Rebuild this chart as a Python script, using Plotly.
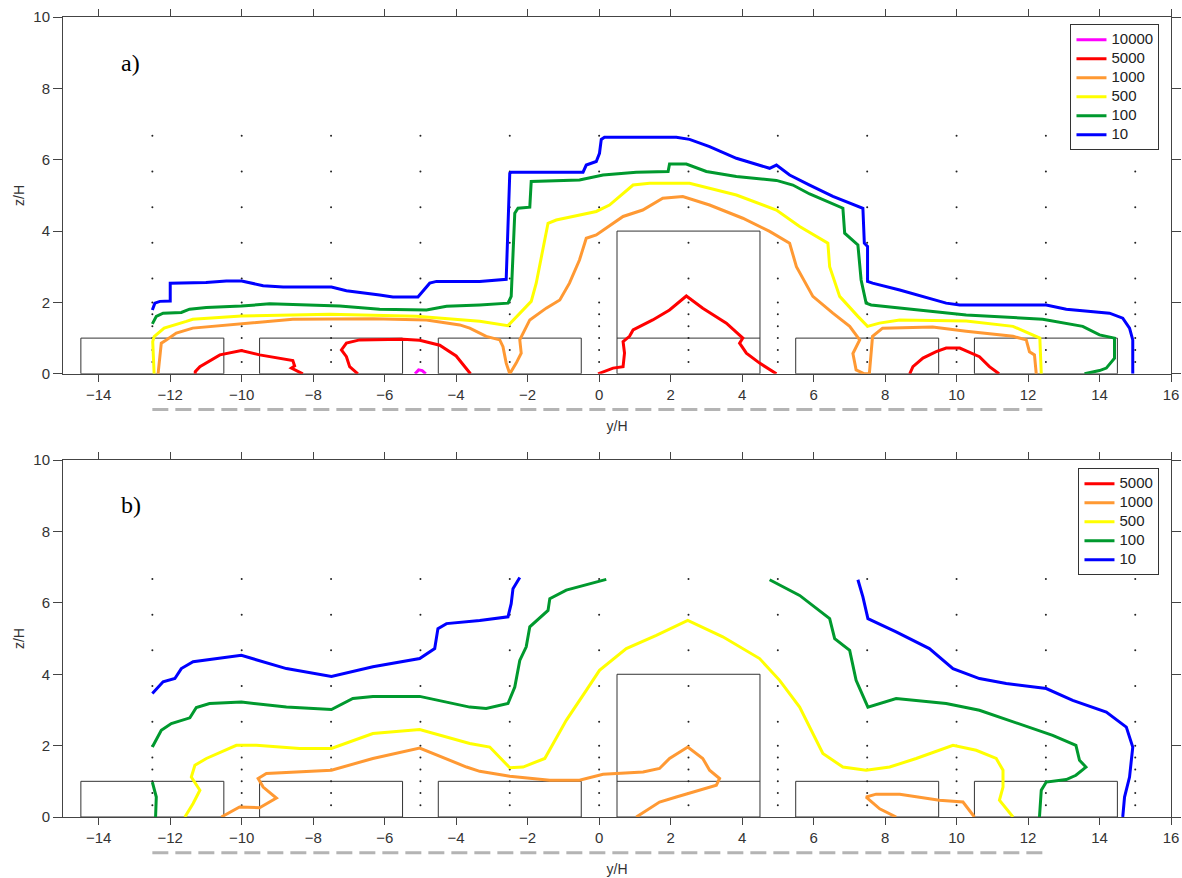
import plotly.graph_objects as go

# ---------------- data (y/H, z/H) ----------------
# panel a)
a_10_y = [-12.5, -12.43, -12.29, -12.0, -12.0, -11.0, -10.43, -10.0, -9.4, -8.84, -7.49, -7.07, -6.14, -5.77, -5.07,
          -4.74, -4.55, -3.34, -2.6, -2.55, -2.5, -2.46, -0.45, -0.36, -0.08, 0.01, 0.06, 0.15, 2.16, 2.53, 3.09,
          3.84, 4.49, 4.77, 4.96, 5.33, 5.89, 6.54, 7.38, 7.42, 7.51, 7.51, 7.65, 8.41, 9.71, 10.09, 12.51, 13.07,
          14.28, 14.65, 14.84, 14.93, 14.93]
a_10_z = [1.79, 1.98, 2.03, 2.04, 2.54, 2.56, 2.6, 2.6, 2.47, 2.43, 2.43, 2.33, 2.21, 2.15, 2.15,
          2.54, 2.59, 2.59, 2.65, 4.0, 5.62, 5.65, 5.65, 5.85, 5.95, 6.18, 6.57, 6.63, 6.63, 6.57, 6.37,
          6.04, 5.85, 5.76, 5.85, 5.57, 5.29, 4.97, 4.64, 3.66, 3.57, 2.59, 2.54, 2.35, 1.98, 1.93, 1.93, 1.81,
          1.70, 1.56, 1.28, 0.95, 0.0]

a_100_y = [-12.5, -12.39, -12.2, -11.69, -11.46, -10.99, -10.01, -9.22, -7.26, -6.14, -4.83, -4.27, -3.34, -2.55,
           -2.46, -2.36, -2.27, -1.94, -1.9, -0.55, 0.11, 1.04, 1.93, 1.97, 2.44, 3.0, 3.84, 4.96, 5.42, 5.89, 6.82,
           6.87, 7.24, 7.33, 7.47, 7.61, 10.27, 12.41, 13.53, 14.0, 14.42, 14.42, 14.19, 14.0, 13.58]
a_100_z = [1.40, 1.61, 1.70, 1.72, 1.81, 1.86, 1.9, 1.96, 1.9, 1.81, 1.79, 1.89, 1.93, 1.98,
           2.17, 4.5, 4.64, 4.67, 5.39, 5.43, 5.57, 5.65, 5.67, 5.88, 5.88, 5.67, 5.53, 5.42, 5.29, 5.04, 4.64,
           3.94, 3.61, 2.63, 1.98, 1.93, 1.65, 1.53, 1.33, 1.09, 1.0, 0.44, 0.16, 0.09, 0.0]

a_500_y = [-12.45, -12.49, -12.45, -12.17, -11.55, -11.37, -10.01, -7.54, -5.11, -3.9, -3.34, -2.55, -2.22, -1.9,
           -1.76, -1.62, -1.43, -1.2, -0.08, 0.29, 0.95, 1.41, 2.53, 3.84, 4.96, 5.61, 6.4, 6.45, 6.73, 7.24, 7.51,
           7.84, 8.41, 10.27, 11.58, 12.33, 12.37]
a_500_z = [0.0, 0.9, 1.04, 1.28, 1.47, 1.53, 1.62, 1.67, 1.61, 1.51, 1.47, 1.35, 1.70, 2.03,
           2.54, 3.29, 4.22, 4.31, 4.55, 4.73, 5.29, 5.34, 5.34, 5.01, 4.59, 4.13, 3.66, 3.0, 2.17, 1.61, 1.33,
           1.42, 1.51, 1.48, 1.33, 1.0, 0.0]

a_1000_y = [-12.34, -12.29, -12.25, -12.11, -11.83, -11.37, -10.01, -8.57, -6.33, -4.83, -3.9, -3.62, -3.34, -3.16,
            -2.78, -2.69, -2.6, -2.5, -2.32, -2.18, -2.22, -1.94, -1.48, -1.1, -0.83, -0.55, -0.36, -0.08, 0.67,
            1.22, 1.78, 2.34, 3.09, 4.02, 4.77, 5.33, 5.52, 5.98, 6.54, 7.01, 7.29, 7.1, 7.19, 7.42, 7.56, 7.6,
            7.65, 7.93, 9.33, 10.27, 11.58, 11.95, 12.04, 12.18, 12.23]
a_1000_z = [0.0, 0.58, 0.86, 0.95, 1.14, 1.28, 1.40, 1.53, 1.54, 1.51, 1.37, 1.28, 1.14, 1.05,
            0.95, 0.76, 0.3, 0.0, 0.3, 0.58, 0.95, 1.51, 1.84, 2.07, 2.54, 3.19, 3.8, 3.89, 4.41,
            4.59, 4.92, 4.97, 4.73, 4.36, 3.99, 3.66, 3.0, 2.17, 1.7, 1.33, 0.95, 0.57, 0.11, 0.0, 0.0, 0.58,
            1.05, 1.28, 1.31, 1.19, 1.05, 0.95, 0.62, 0.53, 0.0]

a_5000_y = [-11.3, -11.3, -11.17, -10.84, -10.61, -10.01, -9.5, -8.57, -8.52, -8.61, -8.29, None,
            -6.75, -6.98, -7.07, -7.21, -7.07, -6.7, -5.49, -5.02, -4.46, -4.0, -3.6, None,
            -0.03, 0.39, 0.67, 0.71, 0.67, 0.85, 0.95, 1.5, 1.97, 2.44, 2.9, 3.56, 4.02, 3.93, 4.12, 4.49, 4.96, None,
            8.69, 8.78, 9.06, 9.43, 9.71, 10.09, 10.64, 10.92, 11.19]
a_5000_z = [0.0, 0.06, 0.2, 0.39, 0.53, 0.65, 0.53, 0.37, 0.22, 0.16, 0.0, None,
            0.0, 0.2, 0.48, 0.67, 0.86, 0.95, 0.97, 0.94, 0.8, 0.5, 0.0, None,
            0.0, 0.16, 0.2, 0.58, 0.9, 1.05, 1.23, 1.51, 1.79, 2.18, 1.84, 1.42, 1.0, 0.86, 0.58, 0.3, 0.0, None,
            0.0, 0.2, 0.44, 0.62, 0.72, 0.72, 0.48, 0.2, 0.0]

a_10000_y = [-5.15, -5.05, -4.95, -4.85]
a_10000_z = [0.0, 0.11, 0.09, 0.0]

# panel b)
b_10_y = [-12.5, -12.2, -11.87, -11.69, -11.36, -10.62, -10.01, -8.75, -7.49, -6.33, -5.02, -4.6, -4.51, -4.27,
          -3.34, -2.55, -2.46, -2.41, -2.22, None,
          7.24, 7.38, 7.52, 8.31, 9.24, 9.9, 10.64, 11.39, 12.51, 13.25, 14.19, 14.75, 14.93, 14.84, 14.7, 14.65]
b_10_z = [3.46, 3.79, 3.88, 4.16, 4.35, 4.44, 4.53, 4.16, 3.94, 4.21, 4.44, 4.72, 5.28, 5.42,
          5.51, 5.61, 5.98, 6.4, 6.71, None,
          6.65, 6.17, 5.56, 5.19, 4.72, 4.16, 3.88, 3.74, 3.6, 3.27, 2.94, 2.52, 1.96, 1.12, 0.56, 0.0]

b_100_y = [-12.5, -12.39, -12.41, None,
           -12.5, -12.25, -11.97, -11.45, -11.27, -10.9, -10.01, -8.75, -7.49, -6.89, -6.33, -5.02, -4.27, -3.62,
           -3.16, -2.55, -2.36, -2.22, -2.04, -1.94, -1.43, -1.38, -0.92, 0.2, None,
           4.77, 5.61, 6.45, 6.59, 7.01, 7.19, 7.52, 8.31, 9.71, 10.64, 12.69, 13.34, 13.44, 13.62, 13.34, 13.07,
           12.51, 12.37, 12.32]
b_100_z = [0.98, 0.56, 0.0, None,
           1.96, 2.43, 2.62, 2.78, 3.07, 3.18, 3.22, 3.08, 3.01, 3.32, 3.38, 3.38, 3.22, 3.08,
           3.04, 3.18, 3.64, 4.39, 4.77, 5.33, 5.79, 6.12, 6.36, 6.66, None,
           6.65, 6.21, 5.56, 5.0, 4.67, 3.83, 3.08, 3.32, 3.18, 2.99, 2.29, 2.01, 1.59, 1.4, 1.17, 1.05,
           0.98, 0.75, 0.0]

b_500_y = [-11.59, -11.36, -11.17, -11.41, -11.31, -10.99, -10.15, -9.59, -8.38, -7.49, -6.33, -5.02, -3.62,
           -3.06, -2.5, -2.13, -1.52, -0.92, -0.36, 0.01, 0.76, 1.6, 2.48, 3.46, 4.49, 5.05, 5.61, 6.26, 6.82,
           7.47, 8.13, 8.87, 9.9, 10.55, 11.11, 11.3, 11.3, 11.2, 11.58]
b_500_z = [0.0, 0.38, 0.75, 1.12, 1.45, 1.64, 2.01, 2.01, 1.92, 1.92, 2.34, 2.45, 2.06,
           1.96, 1.38, 1.4, 1.64, 2.71, 3.55, 4.11, 4.72, 5.09, 5.51, 5.05, 4.44, 3.83, 3.08, 1.78, 1.4,
           1.31, 1.4, 1.64, 2.01, 1.87, 1.64, 1.31, 0.84, 0.47, 0.0]

b_1000_y = [-10.57, -10.06, -9.5, -9.03, -9.4, -9.54, -9.31, -7.49, -6.33, -5.02, -3.71, -3.34, -2.5, -1.38,
            -0.55, 0.11, 1.23, 1.69, 1.97, 2.48, 2.9, 3.09, 3.37, 3.28, 2.16, 1.69, 1.04, None,
            8.31, 7.85, 7.47, 7.75, 8.41, 9.52, 10.18, 10.5]
b_1000_z = [0.0, 0.28, 0.26, 0.53, 0.84, 1.08, 1.22, 1.31, 1.64, 1.93, 1.4, 1.28, 1.14, 1.03,
            1.03, 1.2, 1.26, 1.36, 1.64, 1.96, 1.64, 1.31, 1.08, 0.89, 0.56, 0.42, 0.0, None,
            0.0, 0.23, 0.56, 0.64, 0.64, 0.47, 0.42, 0.0]

b_5000_y = [None]
b_5000_z = [None]

# buildings
bld_y0 = [-14.5, -9.5, -4.5, 0.5, 5.5, 10.5]
bld_y1 = [-10.5, -5.5, -0.5, 4.5, 9.5, 14.5]
bld_h = [1, 1, 1, 4, 1, 1]

# measurement point grid
grid_y = [-12.5, -10, -7.5, -5, -2.5, 0, 2.5, 5, 7.5, 10, 12.5, 15]
grid_z = [0.33, 0.67, 1.0, 1.33, 1.67, 2.0, 2.67, 3.67, 4.67, 5.67, 6.67]

levels = ["10000", "5000", "1000", "500", "100", "10"]
colors = {"10000": "#FF00FF", "5000": "#FF0000", "1000": "#FF9933",
          "500": "#FFFF00", "100": "#00992E", "10": "#0000FF"}

panel_a = {"10000": (a_10000_y, a_10000_z), "5000": (a_5000_y, a_5000_z), "1000": (a_1000_y, a_1000_z),
           "500": (a_500_y, a_500_z), "100": (a_100_y, a_100_z), "10": (a_10_y, a_10_z)}
panel_b = {"5000": (b_5000_y, b_5000_z), "1000": (b_1000_y, b_1000_z),
           "500": (b_500_y, b_500_z), "100": (b_100_y, b_100_z), "10": (b_10_y, b_10_z)}

# ---------------- figure ----------------
fig = go.Figure()
FONT = "Liberation Sans, Arial, sans-serif"


def legend_label(txt):
    return '<span style="font-size:15px">' + txt + '</span>'


gx = [gy for gy in grid_y for _ in grid_z]
gz = [z for _ in grid_y for z in grid_z]
for xa, ya in (("x", "y"), ("x2", "y2")):
    fig.add_trace(go.Scatter(x=gx, y=gz, mode="markers", xaxis=xa, yaxis=ya, showlegend=False,
                             marker=dict(size=2, color="#222"), hoverinfo="skip"))

for lv in levels:
    yy, zz = panel_a[lv]
    fig.add_trace(go.Scatter(x=yy, y=zz, mode="lines", name=legend_label(lv), xaxis="x", yaxis="y",
                             line=dict(color=colors[lv], width=3), legend="legend", connectgaps=False))
for lv in levels:
    if lv not in panel_b:
        continue
    yy, zz = panel_b[lv]
    fig.add_trace(go.Scatter(x=yy, y=zz, mode="lines", name=legend_label(lv), xaxis="x2", yaxis="y2",
                             line=dict(color=colors[lv], width=3), legend="legend2", connectgaps=False))

shapes = []
for xr, yr in (("x", "y"), ("x2", "y2")):
    for y0, y1, h in zip(bld_y0, bld_y1, bld_h):
        shapes.append(dict(type="rect", xref=xr, yref=yr, x0=y0, x1=y1, y0=0, y1=h,
                           line=dict(color="#333", width=1), layer="below"))
        if h > 1:
            shapes.append(dict(type="line", xref=xr, yref=yr, x0=y0, x1=y1, y0=1, y1=1,
                               line=dict(color="#333", width=1), layer="below"))
    shapes.append(dict(type="line", xref=xr, yref=yr + " domain", x0=grid_y[0], x1=-grid_y[0],
                       y0=-0.1, y1=-0.1, line=dict(color="#b4b4b4", width=3, dash="16px,7px")))

axis_common = dict(range=[-15, 16], dtick=2, tick0=0, showline=True, mirror="ticks", linecolor="#444",
                   linewidth=1, ticks="outside", ticklen=7, tickcolor="#444", showgrid=False, zeroline=False,
                   automargin=False, tickfont=dict(family=FONT, size=15, color="#333"))
yaxis_common = dict(range=[0, 10], dtick=2, showline=True, mirror="ticks", linecolor="#444", linewidth=1,
                    ticks="outside", ticklen=9, tickcolor="#444", showgrid=False, zeroline=False,
                    automargin=False, tickfont=dict(family=FONT, size=15, color="#333"))

legend_common = dict(bgcolor="white", bordercolor="#333", borderwidth=1, xanchor="right", yanchor="top",
                     font=dict(family=FONT, size=12, color="#222"), itemwidth=30, tracegroupgap=0)

fig.update_layout(
    width=1182, height=878,
    margin=dict(l=63, r=11, t=17, b=61, autoexpand=False),
    paper_bgcolor="white", plot_bgcolor="white",
    xaxis=dict(axis_common, domain=[0, 1], anchor="y",
               title=dict(text="y/H", standoff=19, font=dict(family=FONT, size=14, color="#333"))),
    yaxis=dict(yaxis_common, domain=[0.554, 1], anchor="x",
               title=dict(text="z/H", standoff=5, font=dict(family=FONT, size=14, color="#333"))),
    xaxis2=dict(axis_common, domain=[0, 1], anchor="y2",
                title=dict(text="y/H", standoff=19, font=dict(family=FONT, size=14, color="#333"))),
    yaxis2=dict(yaxis_common, domain=[0, 0.446], anchor="x2",
                title=dict(text="z/H", standoff=5, font=dict(family=FONT, size=14, color="#333"))),
    legend=dict(legend_common, x=0.9896, y=0.991),
    legend2=dict(legend_common, x=0.9896, y=0.436),
    shapes=shapes,
    annotations=[
        dict(text="a)", x=-13.1, y=8.7, xref="x", yref="y", showarrow=False,
             font=dict(family="Liberation Serif, Times New Roman, serif", size=24, color="black")),
        dict(text="b)", x=-13.1, y=8.74, xref="x2", yref="y2", showarrow=False,
             font=dict(family="Liberation Serif, Times New Roman, serif", size=24, color="black")),
    ],
)

# remove the default page margin so the 1182x878 figure fills the window exactly
fig.write_html("out.html", config={"displayModeBar": False},
               post_script="document.body.style.margin='0';document.body.style.overflow='hidden';")
